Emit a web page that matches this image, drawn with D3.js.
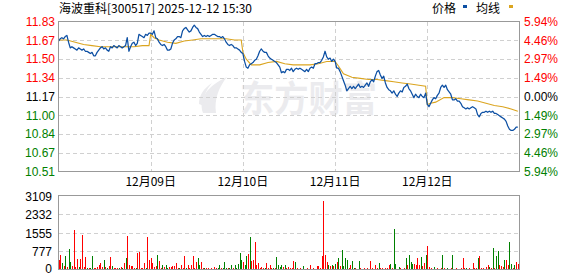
<!DOCTYPE html>
<html><head><meta charset="utf-8">
<script src="https://cdn.jsdelivr.net/npm/d3@7"></script>
<style>html,body{margin:0;padding:0;background:#fff;overflow:hidden}</style>
</head><body><svg id="c" width="578" height="276"></svg>
<script>
// ---------- data ----------
const title = "海波重科[300517] 2025-12-12 15:30";
const legendNames = ["价格", "均线"];
const dayLabels = ["12月09日", "12月10日", "12月11日", "12月12日"];
const priceTickLabels = ["11.83","11.67","11.50","11.34","11.17","11.00","10.84","10.67","10.51"];
const pctTickLabels = ["5.94%","4.46%","2.97%","1.49%","0.00%","1.49%","2.97%","4.46%","5.94%"];
const volTickLabels = ["3109","2332","1555","777","0"];
const prevClose = 11.17;
const priceMin = 10.507, priceMax = 11.833;
const volMax = 3109;

const priceD1 = [11.66,11.68,11.69,11.68,11.70,11.71,11.65,11.60,11.61,11.60,11.59,11.58,11.60,11.59,11.58,11.59,11.57,11.57,11.56,11.55,11.56,11.53,11.53,11.56,11.58,11.60,11.61,11.59,11.60,11.58,11.57,11.61,11.60,11.62,11.61,11.60,11.62,11.61,11.60,11.61,11.62,11.69,11.57,11.61,11.64,11.65,11.62,11.64,11.72,11.71,11.70,11.69,11.72,11.71,11.73];
const priceD2 = [11.73,11.72,11.75,11.69,11.68,11.65,11.63,11.62,11.63,11.61,11.58,11.58,11.59,11.64,11.67,11.68,11.70,11.70,11.69,11.75,11.77,11.78,11.76,11.74,11.75,11.78,11.80,11.78,11.77,11.74,11.72,11.70,11.71,11.70,11.71,11.70,11.71,11.72,11.72,11.71,11.70,11.70,11.69,11.70,11.68,11.65,11.63,11.62,11.63,11.62,11.60,11.60,11.59,11.58,11.56];
const priceD3 = [11.55,11.48,11.43,11.42,11.45,11.46,11.47,11.49,11.50,11.53,11.57,11.59,11.57,11.56,11.56,11.53,11.51,11.50,11.49,11.48,11.47,11.45,11.43,11.38,11.39,11.38,11.41,11.41,11.40,11.42,11.39,11.41,11.42,11.41,11.42,11.41,11.40,11.39,11.41,11.39,11.42,11.43,11.42,11.46,11.46,11.47,11.47,11.49,11.52,11.57,11.52,11.50,11.51,11.48,11.50];
const priceD4 = [11.48,11.42,11.42,11.39,11.35,11.31,11.27,11.22,11.24,11.26,11.24,11.26,11.24,11.26,11.28,11.25,11.26,11.25,11.27,11.29,11.26,11.30,11.32,11.30,11.35,11.39,11.40,11.36,11.33,11.35,11.29,11.25,11.23,11.22,11.20,11.22,11.19,11.17,11.20,11.22,11.21,11.25,11.26,11.28,11.24,11.22,11.19,11.16,11.19,11.17,11.16,11.19,11.17,11.16,11.20];
const priceD5 = [11.10,11.08,11.11,11.14,11.16,11.15,11.18,11.20,11.25,11.27,11.25,11.27,11.23,11.21,11.19,11.14,11.14,11.15,11.13,11.13,11.11,11.08,11.07,11.06,11.07,11.06,11.07,11.08,11.07,11.06,11.01,10.99,11.02,11.03,11.03,11.04,11.03,11.04,11.03,11.04,11.02,11.02,11.01,11.00,10.99,10.98,10.97,10.95,10.91,10.88,10.87,10.87,10.88,10.90,10.90];

const avgIdx = [0,2,5,10,15,20,25,30,35,40,45,50,54];
const avgD1 = [11.67,11.67,11.67,11.65,11.63,11.62,11.61,11.61,11.61,11.61,11.61,11.62,11.62];
const avgD2 = [11.72,11.69,11.67,11.65,11.64,11.66,11.67,11.68,11.68,11.68,11.68,11.67,11.67];
const avgD3 = [11.56,11.50,11.45,11.45,11.47,11.48,11.46,11.45,11.45,11.45,11.46,11.48,11.48];
const avgD4 = [11.48,11.44,11.37,11.34,11.33,11.32,11.32,11.31,11.30,11.29,11.28,11.27,11.26];
const avgD5 = [11.10,11.11,11.12,11.16,11.16,11.15,11.14,11.13,11.11,11.09,11.08,11.06,11.04];

const volD1 = [410,620,270,150,550,120,875,330,150,1680,120,450,120,450,1440,120,530,80,60,60,550,60,80,120,200,280,120,410,120,80,150,530,150,60,80,60,80,120,80,280,470,1400,200,150,150,60,80,690,730,60,80,280,80,1350,410];
const volD2 = [500,280,120,150,600,350,80,200,100,200,80,100,100,150,150,270,80,80,200,80,580,80,200,80,200,560,80,330,490,200,300,60,60,60,60,40,60,40,100,60,60,200,80,80,300,60,80,80,200,80,200,80,250,690,400];
const volD3 = [300,200,560,670,1350,350,400,1160,200,270,80,120,80,60,270,80,200,80,60,80,530,200,100,200,100,200,80,100,60,80,350,300,60,40,60,40,150,40,60,40,200,40,60,40,150,150,60,550,2880,610,300,200,150,200,150];
const volD4 = [250,330,470,150,830,150,470,410,80,200,370,80,60,40,370,60,40,60,40,60,40,370,60,40,200,60,270,80,60,40,60,80,200,250,80,1720,250,40,120,60,40,80,470,200,610,300,250,250,200,470,200,530,150,270,610];
const volD5 = [970,100,60,40,100,40,60,40,60,610,60,40,60,40,60,610,40,60,40,40,80,470,60,80,40,60,40,270,60,80,490,560,60,60,40,120,200,120,60,900,60,560,790,200,150,100,410,410,200,1160,250,60,200,330,250];
// r = up (red), g = down (green)
const dirD1 = "rrgrgrggrrrrgrrrrgrggrrrrrrgrgrrgrrrgrgrgrrrrrgrrrrrgrr";
const dirD2 = "rrrrgrrgrggrrrrrrgrrrgrrrrrrggrrgrrgrrrrggrgggrggrggggg";
const dirD3 = "rggrgrrrrrrrrgrrrrgrggggrgrrrrrgrrrggrrrrrrrrrrrrrrgrgrg";
const dirD4 = "grgrggggrrggrrgrgrrrrrrrrrgrrrrrrgrggrgrrrgrgggrrrrgrrg";
const dirD5 = "rrrrgrrgrgrrgrrgrrrrrrrgrrrrrrgrrrrrrgrgrggrrrgrrggrgrr";

// ---------- layout ----------
const svg = d3.select("#c");
const L = 58.5, R = 519.5, PT = 21.5, PB = 171.5, VT = 195.5, VB = 269.5;
const nPerDay = 55;
const x = d3.scaleLinear().domain([0, 5]).range([L, R]);
const y = d3.scaleLinear().domain([priceMin, priceMax]).range([PB, PT]);
const gy = d3.scaleLinear().domain([0, 8]).range([PT, PB]);
const yv = d3.scaleLinear().domain([0, volMax]).range([VB, VT]);
const font = "'Liberation Sans', Arial, sans-serif";
const cjk = "'Noto Sans CJK SC', sans-serif";

const prices = [priceD1, priceD2, priceD3, priceD4, priceD5];
const avgs = [avgD1, avgD2, avgD3, avgD4, avgD5];
const vols = [volD1, volD2, volD3, volD4, volD5];
const dirs = [dirD1, dirD2, dirD3, dirD4, dirD5];

const pricePts = prices.flatMap((arr, d) => arr.map((v, i) => ({t: d + i / nPerDay, v})));
const avgPts = avgs.flatMap((arr, d) => arr.map((v, i) => ({t: d + avgIdx[i] / nPerDay, v})));
const volPts = vols.flatMap((arr, d) => arr.map((v, i) => ({t: d + i / nPerDay, v, up: dirs[d][i] !== "g"})));

// watermark
const wm = svg.append("g").attr("fill", "#ebebee");
wm.append("path").attr("d", "M203,113 C198,99 207,86 227,77 C219,87 214,99 216,113 Z");
wm.append("path").attr("d", "M199,104 C199,95 204,88 212,83 C206,90 203,97 204,106 Z");
wm.append("text").attr("x", 240).attr("y", 112).attr("font-family", cjk).attr("font-weight", 700)
  .attr("font-size", 36).attr("textLength", 137).attr("lengthAdjust", "spacingAndGlyphs").text("东方财富");

// grid
const grid = svg.append("g").attr("stroke", "#d0d0d0").attr("stroke-dasharray", "4,3").attr("shape-rendering", "crispEdges");
d3.range(1, 8).forEach(k => grid.append("line").attr("x1", L).attr("x2", R).attr("y1", Math.round(gy(k)) + 0.5).attr("y2", Math.round(gy(k)) + 0.5));
dayLabels.forEach((lab, i) => grid.append("line").attr("x1", Math.round(x(i + 1)) + 0.5).attr("x2", Math.round(x(i + 1)) + 0.5).attr("y1", PT).attr("y2", PB));
const vgy = d3.scaleLinear().domain([0, volTickLabels.length - 1]).range([VT, VB]);
d3.range(1, volTickLabels.length - 1).forEach(k => grid.append("line").attr("x1", L).attr("x2", R).attr("y1", Math.round(vgy(k)) + 0.5).attr("y2", Math.round(vgy(k)) + 0.5));

// avg & price lines
const line = d3.line().x(d => x(d.t)).y(d => y(d.v));
svg.append("path").datum(avgPts).attr("d", line).attr("fill", "none").attr("stroke", "#dba520").attr("stroke-width", 1.1);
svg.append("path").datum(pricePts).attr("d", line).attr("fill", "none").attr("stroke", "#0c4fa3").attr("stroke-width", 1.25).attr("stroke-linejoin", "round");

// volume bars
svg.append("g").attr("shape-rendering", "crispEdges").selectAll("rect").data(volPts).join("rect")
  .attr("x", d => Math.round(x(d.t)))
  .attr("width", 1)
  .attr("y", d => Math.min(yv(d.v), VB - 1))
  .attr("height", d => Math.max(VB - yv(d.v), 1))
  .attr("fill", d => d.up ? "#ff0000" : "#008000");

// frames
svg.append("rect").attr("x", L).attr("y", PT).attr("width", R - L).attr("height", PB - PT).attr("fill", "none").attr("stroke", "#999").attr("shape-rendering", "crispEdges");
svg.append("rect").attr("x", L).attr("y", VT).attr("width", R - L).attr("height", VB - VT).attr("fill", "none").attr("stroke", "#999").attr("shape-rendering", "crispEdges");

// left price labels
const colorFor = k => k < 4 ? "#ff0000" : (k === 4 ? "#000" : "#008000");
svg.append("g").selectAll("text").data(priceTickLabels).join("text")
  .attr("x", 55).attr("y", (d, k) => gy(k)).attr("dy", "0.36em").attr("text-anchor", "end")
  .attr("font-family", font).attr("font-size", 12).attr("fill", (d, k) => colorFor(k)).text(d => d);
// right pct labels
svg.append("g").selectAll("text").data(pctTickLabels).join("text")
  .attr("x", 524).attr("y", (d, k) => gy(k)).attr("dy", "0.36em").attr("text-anchor", "start")
  .attr("font-family", font).attr("font-size", 12).attr("fill", (d, k) => colorFor(k)).text(d => d);
// day labels
svg.append("g").selectAll("text").data(dayLabels).join("text")
  .attr("x", (d, i) => x(i + 1)).attr("y", 186).attr("text-anchor", "middle")
  .attr("font-family", cjk).attr("font-size", 12).attr("fill", "#000").text(d => d);
// volume labels
svg.append("g").selectAll("text").data(volTickLabels).join("text")
  .attr("x", 52).attr("y", (d, k) => Math.min(vgy(k) + 1, 268.5)).attr("dy", "0.36em").attr("text-anchor", "end")
  .attr("font-family", font).attr("font-size", 12).attr("fill", "#000").text(d => d);

// title
svg.append("text").attr("x", 59).attr("y", 13).attr("font-family", cjk).attr("font-size", 12)
  .attr("fill", "#000").text(title);
// legend
const lg = svg.append("g").attr("font-family", cjk).attr("font-size", 12).attr("fill", "#000");
lg.append("text").attr("x", 432).attr("y", 13).text(legendNames[0]);
lg.append("rect").attr("x", 463).attr("y", 5).attr("width", 4).attr("height", 3).attr("fill", "#0c4fa3");
lg.append("text").attr("x", 476).attr("y", 13).text(legendNames[1]);
lg.append("rect").attr("x", 509).attr("y", 5).attr("width", 4).attr("height", 3).attr("fill", "#dba520");
</script></body></html>
